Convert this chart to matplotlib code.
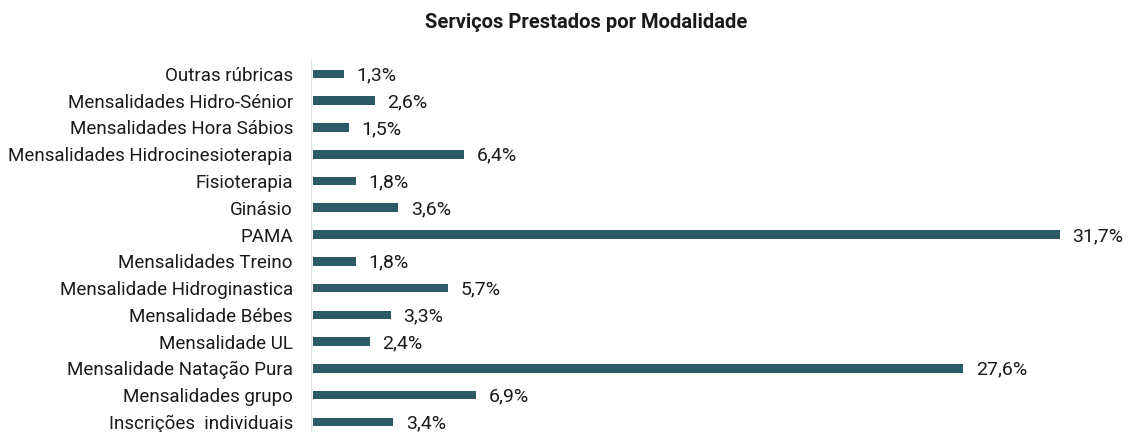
import matplotlib
matplotlib.use("Agg")
import matplotlib.pyplot as plt

categories = [
    "Outras rúbricas",
    "Mensalidades Hidro-Sénior",
    "Mensalidades Hora Sábios",
    "Mensalidades Hidrocinesioterapia",
    "Fisioterapia",
    "Ginásio",
    "PAMA",
    "Mensalidades Treino",
    "Mensalidade Hidroginastica",
    "Mensalidade Bébes",
    "Mensalidade UL",
    "Mensalidade Natação Pura",
    "Mensalidades grupo",
    "Inscrições  individuais",
]
values = [1.3, 2.6, 1.5, 6.4, 1.8, 3.6, 31.7, 1.8, 5.7, 3.3, 2.4, 27.6, 6.9, 3.4]
value_labels = ["1,3%", "2,6%", "1,5%", "6,4%", "1,8%", "3,6%", "31,7%", "1,8%",
                "5,7%", "3,3%", "2,4%", "27,6%", "6,9%", "3,4%"]

plt.rcParams["font.family"] = ["Roboto", "DejaVu Sans"]

bar_color = "#2c5b67"
text_color = "#1a1a1a"

fig = plt.figure(figsize=(11.28, 4.32), dpi=100)
ax = fig.add_axes([0.2757, 0.0, 0.71, 0.861])

n = len(categories)
ypos = [n - 1 - i for i in range(n)]
ax.barh(ypos, values, height=0.32, color=bar_color, left=0.1)
for y, v, lbl in zip(ypos, values, value_labels):
    ax.annotate(lbl, (v + 0.1, y), xytext=(9, -1), textcoords="offset points",
                va="center", ha="left", fontsize=14, color=text_color)

ax.set_xlim(0, 34)
ax.set_ylim(-0.38, 13.52)
ax.set_yticks(ypos)
ax.set_yticklabels(categories, fontsize=13.5, color=text_color)
ax.tick_params(axis="y", length=0, pad=13)
ax.set_xticks([])
for s in ["top", "right", "bottom"]:
    ax.spines[s].set_visible(False)
ax.spines["left"].set_color("#e2e2e2")
ax.spines["left"].set_linewidth(0.8)

fig.text(0.52, 0.948, "Serviços Prestados por Modalidade", ha="center", va="center",
         fontsize=14.5, fontweight="bold", color=text_color)

fig.savefig("out.png", dpi=100)
